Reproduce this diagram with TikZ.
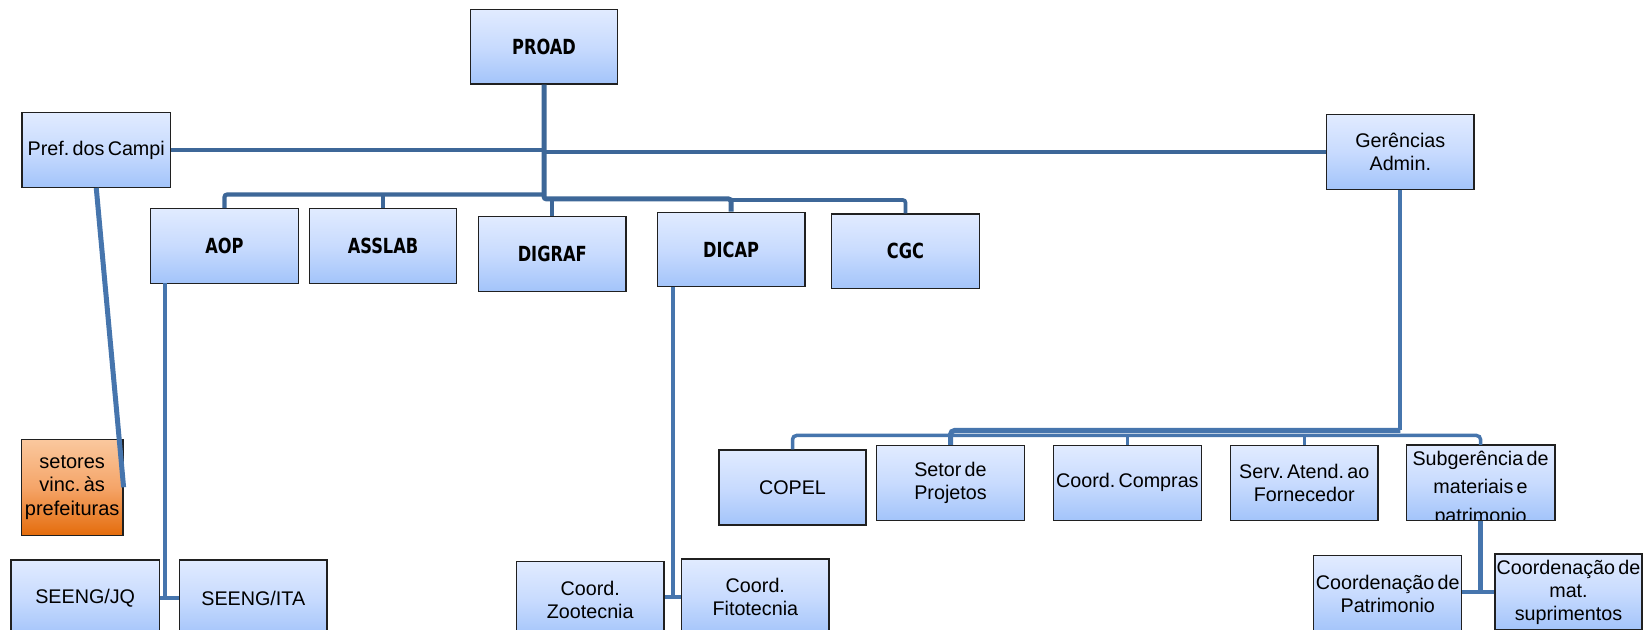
\documentclass[tikz,border=0pt]{standalone}
\usepackage{fontspec}
\setmainfont{Liberation Sans}[WordSpace=0.6]
\newfontfamily\bfnt[FakeStretch=0.78]{DejaVu Sans}
\frenchspacing
\definecolor{boxtop}{RGB}{225,235,255}
\definecolor{boxmid}{RGB}{200,219,254}
\definecolor{boxbot}{RGB}{163,196,250}
\definecolor{otop}{RGB}{250,200,158}
\definecolor{omid}{RGB}{245,165,105}
\definecolor{obot}{RGB}{228,108,12}
\definecolor{bord}{RGB}{32,32,32}
\definecolor{cone}{RGB}{61,103,152}
\definecolor{ctwo}{RGB}{70,117,173}
\begin{document}
\begin{tikzpicture}[x=0.75pt,y=-0.75pt,
  sz/.style 2 args={minimum width=#1*0.75pt, minimum height=#2*0.75pt},
  lw/.style={line width=#1*0.75pt},
  box/.style={draw=bord, line width=0.9pt, top color=boxtop, bottom color=boxbot, middle color=boxmid,
    inner xsep=0pt, inner ysep=1pt, align=center, font=\frenchspacing\fontsize{14.8pt}{17.25pt}\selectfont, sz={147.5}{74.6}},
  bbox/.style={box, font=\bfnt\bfseries\fontsize{15.6pt}{18pt}\selectfont},
  obox/.style={box, top color=otop, bottom color=obot, middle color=omid, font=\fontsize{15pt}{17.5pt}\selectfont},
  txt/.style={inner sep=0pt, align=center, font=\frenchspacing\fontsize{14.8pt}{17.25pt}\selectfont},
  cA/.style={draw=cone},
  cB/.style={draw=ctwo}
]
\useasboundingbox (0,0) rectangle (1648,630);
\clip (0,0) rectangle (1648,630);
\fill[white] (0,0) rectangle (1648,630);

% top level
\node[bbox] (proad) at (544,46.7) {PROAD};
\node[box, sz={148.5}{74.6}] (pref) at (96.25,150) {Pref. dos Campi};
\node[box, sz={147.3}{75}] (ger) at (1400.3,151.8) {Gerências\\Admin.};

% second level
\node[bbox] (aop) at (224.5,246) {AOP};
\node[bbox] (asslab) at (383,246) {ASSLAB};
\node[bbox] (digraf) at (552.25,253.85) {DIGRAF};
\node[bbox] (dicap) at (731.15,249.5) {DICAP};
\node[bbox] (cgc) at (905.5,251.3) {CGC};

% orange box
\node[obox, sz={101.6}{96}] (setores) at (72.2,487.3) {setores\\vinc. às\\prefeituras};

% gerencias children
\node[box, sz={147}{75}] (copel) at (792.5,487.5) {COPEL};
\node[box] (setor) at (950.5,482.85) {Setor de\\Projetos};
\node[box] (compras) at (1127.35,482.85) {Coord. Compras};
\node[box] (serv) at (1304.25,482.85) {Serv. Atend. ao\\Fornecedor};
\node[box] (subg) at (1480.55,482.85) {};
\begin{scope}
  \clip (subg.north west) rectangle (subg.south east);
  \node[txt, anchor=north, font=\frenchspacing\fontsize{14.8pt}{21.4pt}\selectfont] (subgt) at (1480.55,450.5) {Subgerência de\\materiais e\\patrimonio};
\end{scope}
\draw[draw=bord, line width=0.9pt] (subg.north west) rectangle (subg.south east);

% bottom row
\node[box, sz={148.4}{76}] (jq) at (85.2,598) {SEENG/JQ};
\node[box, sz={147.5}{76}] (ita) at (253.25,598) {SEENG/ITA};
\node[box, sz={147.5}{76}] (zoo) at (590.25,599.7) {Coord.\\Zootecnia};
\node[box, sz={147.3}{76}] (fito) at (755.35,597) {Coord.\\Fitotecnia};
\node[box, sz={148.1}{76}] (patr) at (1387.75,593.7) {Coordenação de\\Patrimonio};
\node[box, sz={147}{76}] (supr) at (1568.5,592) {Coordenação de\\mat.\\suprimentos};

% helper coordinates
\coordinate (busA) at (544,194.5);
\coordinate (busB) at (544,199);
\coordinate (busC) at (731.15,200);
\coordinate (aopd) at (164.5,283.3);
\coordinate (dicapd) at (673,286.7);
\coordinate (gbusT) at (1400.3,430.5);
\coordinate (gbus) at (1400.3,435.5);

% connectors upper part
\draw[cA, lw=4.4] (pref.east) -- (pref.east -| proad.south);
\draw[cA, lw=4.4] (ger.west -| proad.south) -- (ger.west);
\draw[cA, lw=4.2, rounded corners=2pt] (busA) -| (aop.north);
\draw[cA, lw=4] (asslab.north) -- (asslab.north |- busA);
\draw[cA, lw=3.7, rounded corners=2pt] (busC) -| (cgc.north);
\draw[cA, lw=5, rounded corners=2pt] (proad.south) |- (dicap.north |- busB) -- (dicap.north);
\draw[cA, lw=4] (digraf.north) -- (digraf.north |- busB);

% connectors lower left
\draw[cB, lw=5] (pref.south) -- (setores.east);
\draw[cB, lw=4] (aopd) |- (jq.east);
\draw[cB, lw=4] (jq.east) -- (ita.west);
\draw[cB, lw=4.3] (dicapd) |- (fito.west);
\draw[cB, lw=4.3] (fito.west) -- (fito.west -| zoo.east);

% connectors gerencias
\draw[cB, lw=4.3] (ger.south) -- (gbusT);
\draw[cB, lw=3.5, rounded corners=3pt] (copel.north) |- (gbus) -| (subg.north);
\draw[cB, lw=5, rounded corners=3pt] (gbusT) -| (setor.north);
\draw[cB, lw=3.2] (compras.north) -- (compras.north |- gbus);
\draw[cB, lw=3.2] (serv.north) -- (serv.north |- gbus);
\draw[cB, lw=4.3] (subg.south) |- (supr.west);
\draw[cB, lw=4.3] (supr.west) -- (supr.west -| patr.east);
\end{tikzpicture}
\end{document}
